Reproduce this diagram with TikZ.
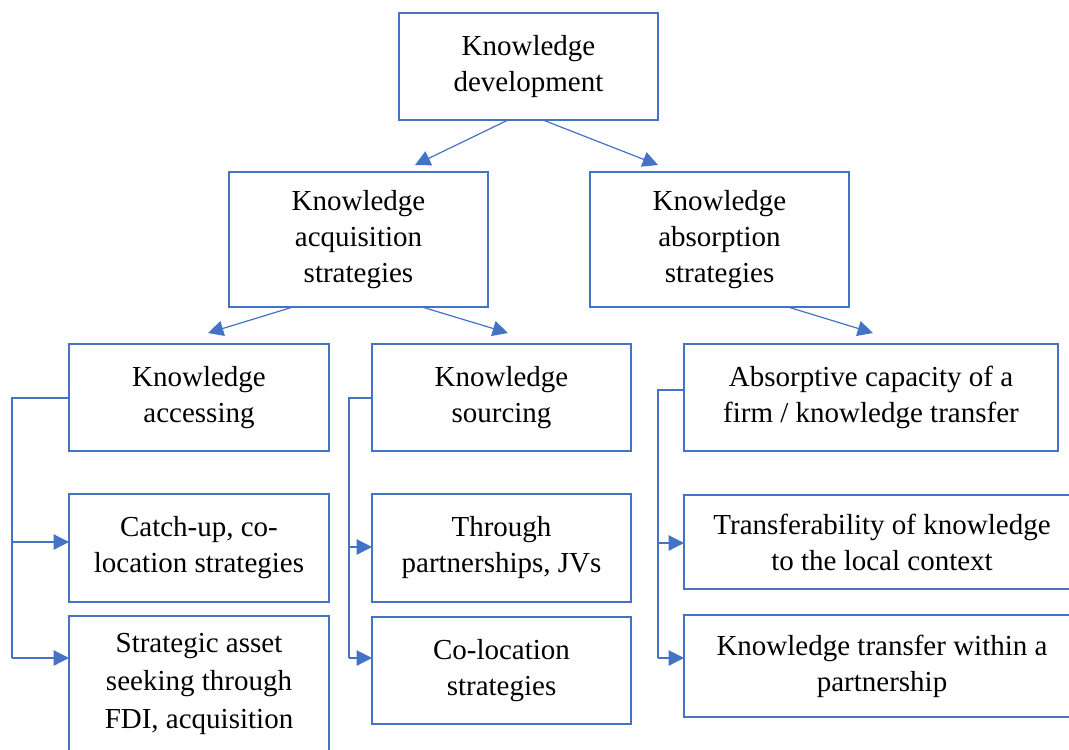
\documentclass[tikz,border=0pt]{standalone}
\usepackage{fontspec}
\setmainfont{Liberation Serif}
\usetikzlibrary{arrows.meta,calc}
\definecolor{wblue}{HTML}{4472C4}
\begin{document}
\begin{tikzpicture}[x=0.75pt,y=-0.75pt,
  box/.style={draw=wblue,line width=1.6pt,inner sep=0pt,outer sep=0pt,align=center,anchor=north west,
    font=\fontsize{21.75pt}{27pt}\selectfont},
  sz/.style 2 args={minimum width=#1*0.75pt,minimum height=#2*0.75pt},
  arr/.style={draw=wblue,line width=0.9pt,-{Triangle[length=11.5pt,width=11.5pt]}},
  conn/.style={draw=wblue,line width=0.9pt}]
\useasboundingbox (0,0) rectangle (1069,749);
\node[box,sz={259}{107}] (top) at (399,13) {Knowledge\\development};
\node[box,sz={259}{135}] (acq) at (229,172) {Knowledge\\acquisition\\strategies};
\node[box,sz={259}{135}] (abs) at (590,172) {Knowledge\\absorption\\strategies};
\node[box,sz={260}{107}] (acc) at (69,344) {Knowledge\\accessing};
\node[box,sz={259}{107}] (src) at (372,344) {Knowledge\\sourcing};
\node[box,sz={374}{107}] (absc) at (684,344) {Absorptive capacity of a\\firm / knowledge transfer};
\node[box,sz={260}{108}] (catch) at (69,494) {Catch-up, co-\\location strategies};
\node[box,sz={259}{108}] (thr) at (372,494) {Through\\partnerships, JVs};
\node[box,sz={396}{94}] (trf) at (684,495) {Transferability of knowledge\\to the local context};
\node[box,sz={260}{136},font=\fontsize{21.75pt}{28.5pt}\selectfont] (strat) at (69,616) {Strategic asset\\seeking through\\FDI, acquisition};
\node[box,sz={259}{107}] (coloc) at (372,617) {Co-location\\strategies};
\node[box,sz={396}{102}] (ktw) at (684,615) {Knowledge transfer within a\\partnership};
% tree arrows
\draw[arr] ($(top.south west)+(109,0)$) -- ($(acq.north west)+(186,-7)$);
\draw[arr] ($(top.south west)+(144,0)$) -- ($(abs.north west)+(68,-7)$);
\draw[arr] ($(acq.south west)+(64,0)$) -- ($(acc.north west)+(139,-11)$);
\draw[arr] ($(acq.south west)+(193,0)$) -- ($(src.north west)+(136,-11)$);
\draw[arr] ($(abs.south west)+(198,0)$) -- ($(absc.north west)+(189,-11)$);
% side buses
\coordinate (a0) at (12,398); \coordinate (a1) at (12,542); \coordinate (a2) at (12,658);
\draw[conn] (a0 -| acc.west) -- (a0) -- (a2);
\draw[arr] (a1) -- (a1 -| catch.west);
\draw[arr] (a2) -- (a2 -| strat.west);
\coordinate (s0) at (349,398); \coordinate (s1b) at (349,547); \coordinate (s2b) at (349,658);
\draw[conn] (s0 -| src.west) -- (s0) -- (s2b);
\draw[arr] (s1b) -- (s1b -| thr.west);
\draw[arr] (s2b) -- (s2b -| coloc.west);
\coordinate (r0) at (658,390); \coordinate (r1) at (658,543); \coordinate (r2) at (658,658);
\draw[conn] (r0 -| absc.west) -- (r0) -- (r2);
\draw[arr] (r1) -- (r1 -| trf.west);
\draw[arr] (r2) -- (r2 -| ktw.west);
\end{tikzpicture}
\end{document}
